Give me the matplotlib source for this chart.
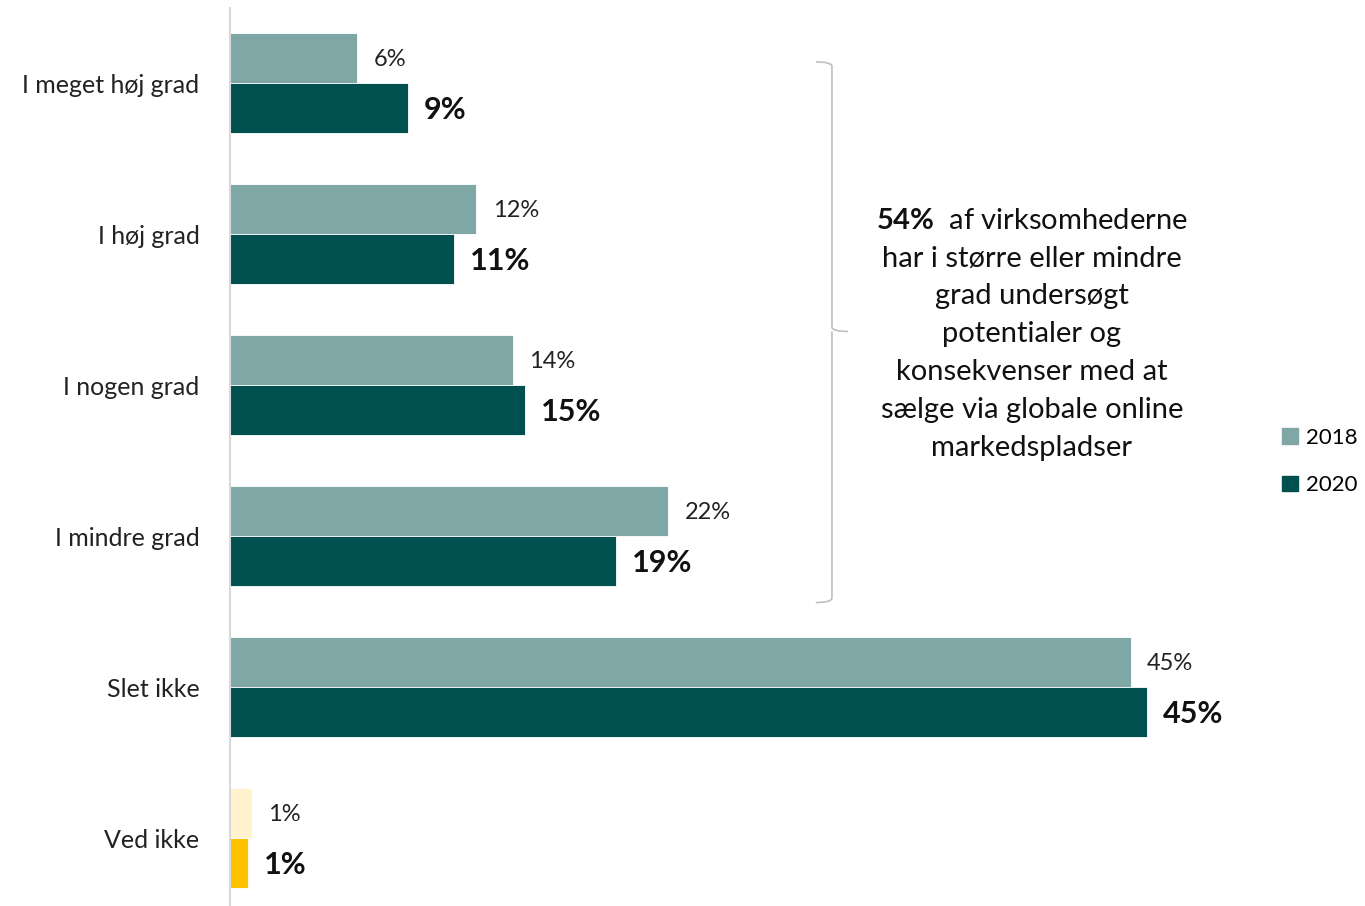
import numpy as np
import matplotlib.pyplot as plt
from matplotlib.patches import Patch
from matplotlib.path import Path
from matplotlib.patches import PathPatch

plt.rcParams['font.family'] = ['Lato', 'DejaVu Sans']
plt.rcParams['mathtext.fontset'] = 'custom'
plt.rcParams['mathtext.rm'] = 'Lato'
plt.rcParams['mathtext.bf'] = 'Lato:bold'

categories = ['I meget høj grad', 'I høj grad', 'I nogen grad', 'I mindre grad', 'Slet ikke', 'Ved ikke']
vals_2018 = [6.3, 12.2, 14.0, 21.7, 44.6, 1.1]
vals_2020 = [8.8, 11.1, 14.6, 19.1, 45.4, 0.9]

col_2018 = ['#7FA7A6'] * 5 + ['#FFF2CC']
col_2020 = ['#00504F'] * 5 + ['#FFC000']

note = ("$\\bf{54\\%}$  af virksomhederne\nhar i større eller mindre\ngrad undersøgt\n"
        "potentialer og\nkonsekvenser med at\nsælge via globale online\nmarkedspladser")

fig = plt.figure(figsize=(13.65, 9.06), dpi=100)
ax = fig.add_axes([230 / 1365, 0, 1135 / 1365, 898 / 906])

y = np.arange(len(categories))
h = 50 / 151
ax.barh(y - h / 2, vals_2018, height=h, color=col_2018, edgecolor='white', linewidth=0.6)
ax.barh(y + h / 2, vals_2020, height=h, color=col_2020, edgecolor='white', linewidth=0.6)

for i in range(len(categories)):
    ax.text(vals_2018[i] + 0.8, y[i] - h / 2 + 0.01, f"{vals_2018[i]:.0f}%",
            va='center', ha='left', fontsize=17, color='#222222')
    ax.text(vals_2020[i] + 0.8, y[i] + h / 2 + 0.01, f"{vals_2020[i]:.0f}%",
            va='center', ha='left', fontsize=22, fontweight='bold', color='#111111')

ax.set_xlim(0, 1135 / 20.2)
ax.set_ylim(-0.497 + 898 / 151, -0.497)
ax.set_yticks(y)
ax.set_yticklabels(categories, fontsize=18, color='#222222')
ax.tick_params(axis='y', length=0, pad=22)
ax.set_xticks([])
for s in ['top', 'right', 'bottom']:
    ax.spines[s].set_visible(False)
ax.spines['left'].set_color('#D9D9D9')
ax.spines['left'].set_linewidth(1.5)

# curly brace around the four "grad" answers
bx, bl, br = 29.8, 29.0, 30.6
y0, y1, ym = -0.14, 3.44, 1.645
r = 0.03
verts = [(bl, y0), (bx, y0), (bx, y0 + r), (bx, ym - r), (bx, ym), (br, ym),
         (bx, ym), (bx, ym + r), (bx, y1 - r), (bx, y1), (bl, y1)]
codes = [Path.MOVETO, Path.CURVE3, Path.CURVE3, Path.LINETO, Path.CURVE3, Path.CURVE3,
         Path.MOVETO, Path.CURVE3, Path.LINETO, Path.CURVE3, Path.CURVE3]
ax.add_patch(PathPatch(Path(verts, codes), fill=False, edgecolor='#BFBFBF', linewidth=1.2))

ax.text(39.7, 1.665, note, ha='center', va='center', fontsize=21, color='#111111',
        linespacing=1.57)

handles = [Patch(color='#7FA7A6', label='2018'), Patch(color='#00504F', label='2020')]
ax.legend(handles=handles, loc='center left', bbox_to_anchor=(1032 / 1135, 0.495),
          frameon=False, fontsize=16, handlelength=0.7, handleheight=0.7,
          handletextpad=0.4, labelspacing=1.25, bbox_transform=ax.transAxes)

fig.savefig('out.png', dpi=100)
